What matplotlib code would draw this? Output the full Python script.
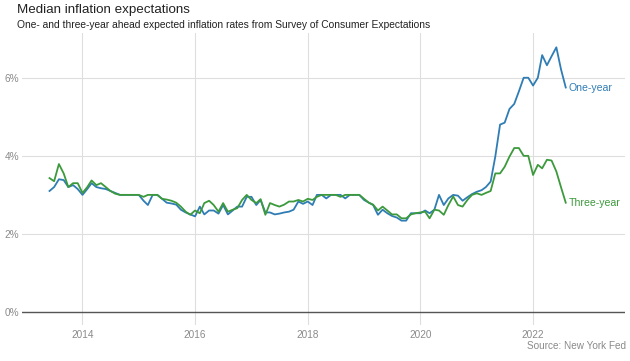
import pandas as pd
import matplotlib.pyplot as plt
import matplotlib.dates as mdates
from matplotlib.ticker import FuncFormatter

plt.rcParams['font.family'] = ['Liberation Sans', 'DejaVu Sans']

# monthly medians, Jun 2013 - Aug 2022
one_year = [
    3.10, 3.20, 3.40, 3.38, 3.20, 3.25, 3.15,
    3.00, 3.15, 3.30, 3.20, 3.17, 3.15, 3.10, 3.05, 3.00, 3.00, 3.00, 3.00,
    3.00, 2.85, 2.74, 3.00, 3.00, 2.90, 2.80, 2.78, 2.75, 2.62, 2.55, 2.50,
    2.45, 2.70, 2.50, 2.60, 2.60, 2.52, 2.74, 2.50, 2.60, 2.70, 2.70, 2.95,
    2.95, 2.74, 2.87, 2.55, 2.55, 2.50, 2.52, 2.55, 2.57, 2.62, 2.83, 2.77,
    2.83, 2.74, 3.00, 3.00, 2.91, 3.00, 3.00, 3.00, 2.91, 3.00, 3.00, 3.00,
    2.87, 2.80, 2.74, 2.49, 2.62, 2.53, 2.46, 2.42, 2.34, 2.34, 2.53, 2.53,
    2.53, 2.60, 2.53, 2.62, 3.00, 2.74, 2.91, 3.00, 2.98, 2.85, 2.94, 3.02,
    3.08, 3.12, 3.20, 3.34, 3.98, 4.80, 4.85, 5.20, 5.33, 5.65, 6.00, 6.00,
    5.80, 6.00, 6.58, 6.32, 6.55, 6.78, 6.22, 5.75,
]
three_year = [
    3.43, 3.35, 3.79, 3.55, 3.20, 3.30, 3.30,
    3.05, 3.20, 3.37, 3.25, 3.30, 3.20, 3.10, 3.03, 3.00, 3.00, 3.00, 3.00,
    3.00, 2.95, 3.00, 3.00, 3.00, 2.90, 2.88, 2.85, 2.80, 2.70, 2.57, 2.49,
    2.60, 2.53, 2.79, 2.85, 2.74, 2.57, 2.79, 2.57, 2.62, 2.66, 2.87, 3.00,
    2.87, 2.79, 2.89, 2.49, 2.79, 2.74, 2.70, 2.75, 2.83, 2.83, 2.87, 2.83,
    2.90, 2.87, 2.95, 3.00, 3.00, 3.00, 3.00, 2.95, 3.00, 3.00, 3.00, 3.00,
    2.90, 2.80, 2.75, 2.60, 2.70, 2.60, 2.50, 2.50, 2.40, 2.40, 2.50, 2.53,
    2.55, 2.57, 2.40, 2.62, 2.60, 2.49, 2.74, 2.96, 2.74, 2.70, 2.87, 3.00,
    3.04, 3.00, 3.05, 3.10, 3.55, 3.55, 3.72, 3.98, 4.20, 4.20, 4.00, 4.00,
    3.51, 3.77, 3.68, 3.90, 3.88, 3.60, 3.20, 2.80,
]
months = pd.date_range("2013-06-01", periods=len(one_year), freq="MS")
tick_years = [2014, 2016, 2018, 2020, 2022]
y_ticks = [0, 2, 4, 6]

blue = "#2f7db4"
green = "#3c9a3c"
grey = "#8a8a8a"

fig = plt.figure(figsize=(6.3, 3.61), dpi=100)
ax = fig.add_axes([0.035, 0.10, 0.957, 0.809])

ax.plot(months, one_year, color=blue, lw=1.3, zorder=3)
ax.plot(months, three_year, color=green, lw=1.3, zorder=3)

ax.annotate("One-year", (months[-1], one_year[-1]), xytext=(2, 0),
            textcoords="offset points", color=blue, fontsize=7.6, va="center")
ax.annotate("Three-year", (months[-1], three_year[-1]), xytext=(2, 0),
            textcoords="offset points", color=green, fontsize=7.6, va="center")

ax.set_xlim(pd.Timestamp("2012-12-05"), pd.Timestamp("2023-08-20"))
ax.set_ylim(-0.33, 7.15)
ax.set_xticks([pd.Timestamp(f"{y}-01-01") for y in tick_years])
ax.xaxis.set_major_formatter(mdates.DateFormatter("%Y"))
ax.set_yticks(y_ticks)
ax.yaxis.set_major_formatter(FuncFormatter(lambda v, p: f"{v:.0f}%"))

ax.grid(True, color="#dedede", lw=0.8)
ax.axhline(0, color="#555555", lw=1.0, zorder=2)
for s in ax.spines.values():
    s.set_visible(False)
ax.tick_params(length=0, labelsize=7.2, labelcolor=grey)
ax.tick_params(axis="y", pad=2)
ax.tick_params(axis="x", pad=4)

fig.text(0.027, 0.972, "Median inflation expectations", fontsize=9.6,
         color="#222222", va="center")
fig.text(0.027, 0.932, "One- and three-year ahead expected inflation rates from Survey of Consumer Expectations",
         fontsize=7.4, color="#222222", va="center")
fig.text(0.994, 0.042, "Source: New York Fed", fontsize=7.2, color=grey,
         ha="right", va="center")

fig.savefig("out.png", dpi=100)
plt.close(fig)
